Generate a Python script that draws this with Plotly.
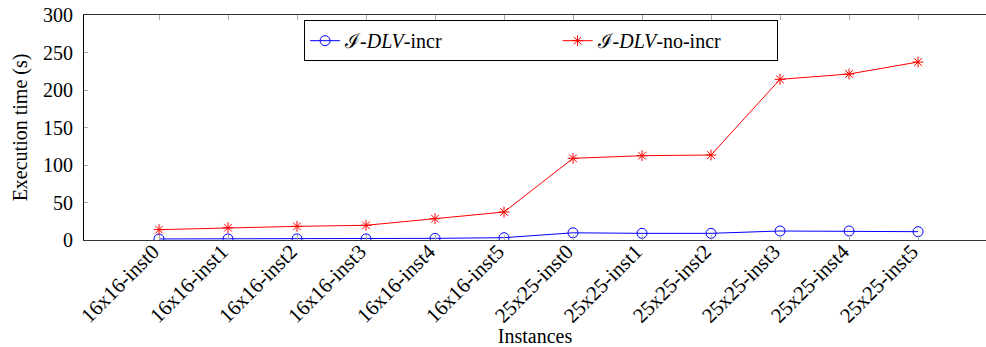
import plotly.graph_objects as go

categories = ["16x16-inst0", "16x16-inst1", "16x16-inst2", "16x16-inst3", "16x16-inst4", "16x16-inst5",
              "25x25-inst0", "25x25-inst1", "25x25-inst2", "25x25-inst3", "25x25-inst4", "25x25-inst5"]
incr = [1.4, 1.4, 1.5, 1.5, 2.2, 3.1, 9.6, 8.9, 8.9, 12.0, 12.0, 11.1]
no_incr = [13.8, 16.4, 18.2, 19.6, 28.4, 37.3, 108.9, 112.4, 113.3, 214.2, 221.3, 237.3]
y_ticks = [0, 50, 100, 150, 200, 250, 300]

FONT = "Liberation Serif"
xs = list(range(len(categories)))

fig = go.Figure()
fig.add_trace(go.Scatter(
    x=xs, y=incr, mode="lines+markers", name="ℐ-<i>DLV</i>-incr" + "&nbsp;" * 22,
    line=dict(color="#0000ff", width=1),
    marker=dict(symbol="circle-open", size=10, color="#0000ff", line=dict(width=1)),
))
fig.add_trace(go.Scatter(
    x=xs, y=no_incr, mode="lines+markers", name="ℐ-<i>DLV</i>-no-incr" + "&nbsp;" * 10,
    line=dict(color="#ff0000", width=1),
    marker=dict(symbol="asterisk-open", size=9, color="#ff0000", line=dict(width=1, color="#ff0000")),
))

fig.update_layout(
    width=986, height=347,
    margin=dict(l=84, r=0, t=15, b=107, autoexpand=False),
    paper_bgcolor="white", plot_bgcolor="white",
    font=dict(family=FONT, size=20, color="black"),
    showlegend=True,
    legend=dict(
        orientation="h", x=0.244, y=0.977, xanchor="left", yanchor="top",
        bordercolor="black", borderwidth=1, bgcolor="white",
        font=dict(family=FONT, size=20, color="black"), tracegroupgap=0,
    ),
    xaxis=dict(
        range=[-1.087, 11.985], tickmode="array", tickvals=xs, ticktext=categories,
        tickangle=-45, showgrid=False, zeroline=False,
        tickfont=dict(family=FONT, size=21, color="black"),
        showline=True, linecolor="#333333", linewidth=1, mirror="ticks",
        ticks="inside", ticklen=5, tickcolor="#aaaaaa", tickwidth=1,
        ticklabelshift=-6, ticklabelstandoff=-10,
        title=dict(text="Instances", standoff=4, font=dict(family=FONT, size=20)),
        automargin=False,
    ),
    yaxis=dict(
        range=[0, 300], tickmode="array", tickvals=y_ticks,
        showgrid=False, zeroline=False,
        tickfont=dict(family=FONT, size=20, color="black"),
        showline=True, linecolor="black", linewidth=1,
        ticks="inside", ticklen=4, tickcolor="#aaaaaa", tickwidth=1,
        ticklabelstandoff=6,
        title=dict(text="Execution time (s)", standoff=10, font=dict(family=FONT, size=20)),
        automargin=False,
    ),
)

fig.write_html("out.html")
